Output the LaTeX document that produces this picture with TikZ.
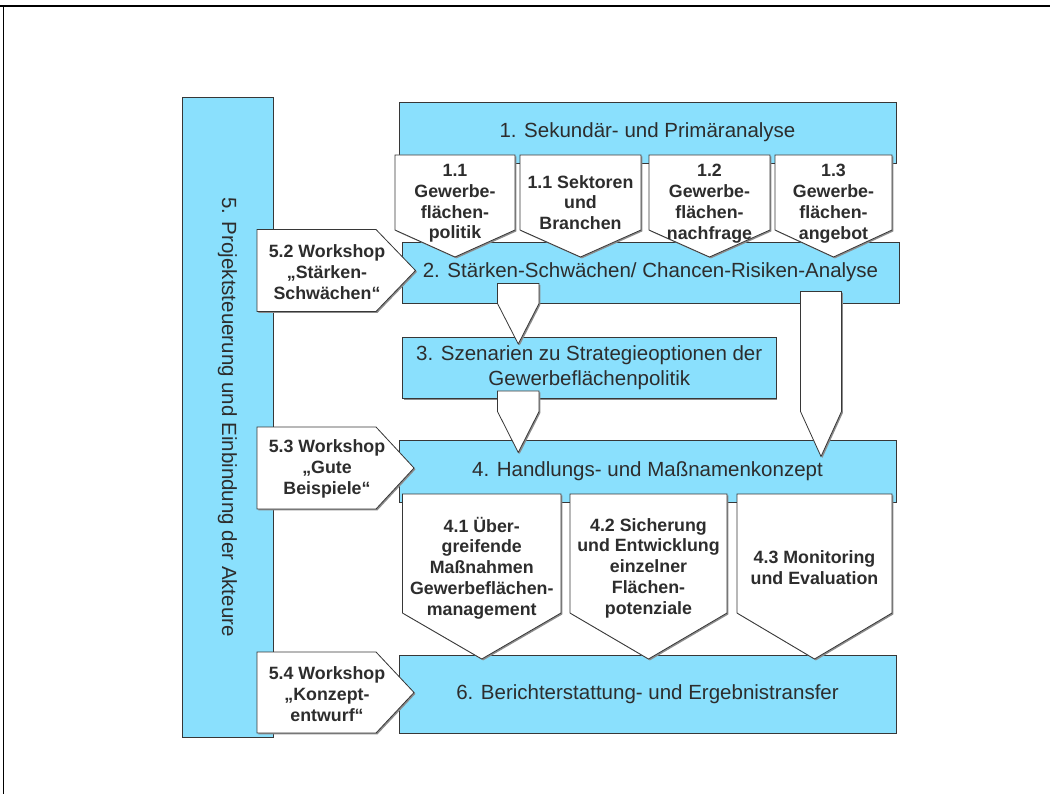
\documentclass[tikz,border=0pt]{standalone}
\usepackage{fontspec}
\setmainfont{Liberation Sans}
\usetikzlibrary{shadows}
\definecolor{boxfill}{RGB}{138,224,253}
\definecolor{txtcol}{RGB}{45,45,45}
\definecolor{edgecol}{RGB}{55,55,55}
\newcommand\bigfont{\fontsize{20.5}{24.6}\selectfont}
\newcommand\smallfont{\bfseries\fontsize{17.8}{20.8}\selectfont}
\tikzset{
  shad/.style={drop shadow={shadow xshift=1.4pt, shadow yshift=-1.4pt, fill=black!45, opacity=1}},
  bluebox/.style={shape=rectangle, draw=edgecol, fill=boxfill, line width=0.8pt, inner sep=0pt, shad, text=txtcol, font=\bigfont, align=center},
  whiteshape/.style={draw=edgecol, fill=white, line width=0.8pt, shad},
  smalltxt/.style={text=txtcol, font=\smallfont, align=center, inner sep=0pt},
  bigtxt/.style={text=txtcol, font=\bigfont, align=center, inner sep=0pt},
}
% blue box: name, x1, y1, x2, y2, text
\newcommand\bbox[6]{\node[bluebox, minimum width={#4pt-#2pt}, minimum height={#5pt-#3pt}] (#1) at ({(#2+#4)/2},{(#3+#5)/2}) {#6};}
% down pentagon: x1, x2, ytop, yshoulder, ytip
\newcommand\dpent[5]{\draw[whiteshape] (#1,#3) -- (#2,#3) -- (#2,#4) -- ({(#1+#2)/2},#5) -- (#1,#4) -- cycle;}
% right pentagon: x1, x2, xtip, ytop, ybot
\newcommand\rpent[5]{\draw[whiteshape] (#1,#4) -- (#2,#4) -- (#3,{(#4+#5)/2}) -- (#2,#5) -- (#1,#5) -- cycle;}
\begin{document}
\begin{tikzpicture}[x=1pt,y=-1pt]
\useasboundingbox (0,0) rectangle (1050,794);
% frame
\draw[line width=1.5pt] (0,6) -- (1050,6);
\draw[line width=1pt] (3,6) -- (3,794);

% blue boxes
\bbox{L}{182}{97}{273}{737}{}
\node[bigtxt, rotate=-90] (Ltxt) at (L.center) {5. Projektsteuerung und Einbindung der Akteure};
\bbox{B1}{399}{102}{896}{163}{1. Sekundär- und Primäranalyse}
\bbox{B2}{402}{242}{899}{303}{2. Stärken-Schwächen/ Chancen-Risiken-Analyse}
\bbox{B3}{402.5}{337}{776}{398.5}{3. Szenarien zu Strategieoptionen der\\Gewerbeflächenpolitik}
\bbox{B4}{399}{440.5}{896}{502}{4. Handlungs- und Maßnamenkonzept}
\bbox{B6}{399}{655}{896}{733}{6. Berichterstattung- und Ergebnistransfer}

% 1.x pentagons
\dpent{395}{515}{155}{230}{257}
\node[smalltxt] (t11) at (455,203.5) {1.1\\Gewerbe-\\flächen-\\politik};
\dpent{520}{641}{155}{230}{257}
\node[smalltxt] (t12) at (580.5,202.5) {1.1 Sektoren\\und\\Branchen};
\dpent{649}{770}{155}{230}{257}
\node[smalltxt] (t13) at (709.5,203.5) {1.2\\Gewerbe-\\flächen-\\nachfrage};
\dpent{775}{892}{155}{230}{257}
\node[smalltxt] (t14) at (833.5,203.5) {1.3\\Gewerbe-\\flächen-\\angebot};

% workshops
\rpent{257}{376}{415.5}{229.5}{311.5}
\node[smalltxt] (w52) at (327,272) {5.2 Workshop\\„Stärken-\\Schwächen“};
\rpent{257}{376}{414}{427}{509}
\node[smalltxt] (w53) at (327,469) {5.3 Workshop\\„Gute\\Beispiele“};
\rpent{257}{376}{414}{652}{733}
\node[smalltxt] (w54) at (327,694) {5.4 Workshop\\„Konzept-\\entwurf“};

% down arrows
\dpent{497.5}{539}{283.5}{303.5}{344}
\dpent{497.5}{539}{391}{411.5}{452.5}
\dpent{800.5}{841.5}{291.5}{411.5}{456.5}

% 4.x pentagons
\dpent{402.5}{561}{494}{613}{659}
\node[smalltxt] (t41) at (481.75,568) {4.1 Über-\\greifende\\Maßnahmen\\Gewerbeflächen-\\management};
\dpent{570}{727}{494}{613}{659}
\node[smalltxt] (t42) at (648.5,568) {4.2 Sicherung\\und Entwicklung\\einzelner\\Flächen-\\potenziale};
\dpent{737}{892}{494}{613}{659}
\node[smalltxt] (t43) at (814.5,568) {4.3 Monitoring\\und Evaluation};
\end{tikzpicture}
\end{document}
